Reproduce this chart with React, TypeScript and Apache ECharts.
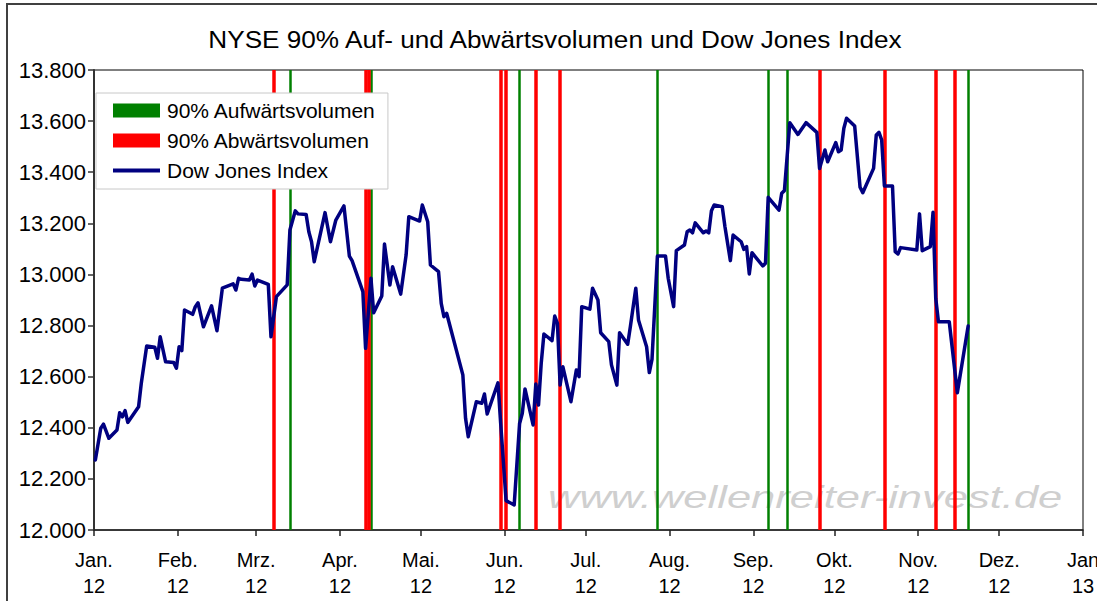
import React, { useEffect, useRef } from 'react';
import * as echarts from 'echarts';

// Month ticks of the date axis
const monthTickDates = [
  '2012-01-01', '2012-02-01', '2012-03-01', '2012-04-01', '2012-05-01', '2012-06-01',
  '2012-07-01', '2012-08-01', '2012-09-01', '2012-10-01', '2012-11-01', '2012-12-01', '2013-01-01',
];
const monthTickLabels = [
  'Jan.\n12', 'Feb.\n12', 'Mrz.\n12', 'Apr.\n12', 'Mai.\n12', 'Jun.\n12',
  'Jul.\n12', 'Aug.\n12', 'Sep.\n12', 'Okt.\n12', 'Nov.\n12', 'Dez.\n12', 'Jan\n13',
];

// Dow Jones Index
const dowDates = [
  '2012-01-01', '2012-01-03', '2012-01-04', '2012-01-06', '2012-01-09', '2012-01-10', '2012-01-11', '2012-01-12', '2012-01-13',
  '2012-01-17', '2012-01-18', '2012-01-20', '2012-01-23', '2012-01-24', '2012-01-25', '2012-01-27', '2012-01-30', '2012-01-31',
  '2012-02-01', '2012-02-02', '2012-02-03', '2012-02-06', '2012-02-07', '2012-02-08', '2012-02-10', '2012-02-13', '2012-02-15',
  '2012-02-17', '2012-02-21', '2012-02-22', '2012-02-23', '2012-02-24', '2012-02-27', '2012-02-28', '2012-02-29',
  '2012-03-01', '2012-03-05', '2012-03-06', '2012-03-08', '2012-03-12', '2012-03-13', '2012-03-15', '2012-03-16', '2012-03-19',
  '2012-03-20', '2012-03-21', '2012-03-22', '2012-03-26', '2012-03-28', '2012-03-30',
  '2012-04-02', '2012-04-04', '2012-04-05', '2012-04-09', '2012-04-10', '2012-04-12', '2012-04-13', '2012-04-16', '2012-04-17',
  '2012-04-19', '2012-04-20', '2012-04-23', '2012-04-25', '2012-04-26', '2012-04-30',
  '2012-05-01', '2012-05-03', '2012-05-04', '2012-05-07', '2012-05-08', '2012-05-09', '2012-05-10', '2012-05-16', '2012-05-17',
  '2012-05-18', '2012-05-21', '2012-05-23', '2012-05-24', '2012-05-25', '2012-05-29', '2012-05-30',
  '2012-06-01', '2012-06-04', '2012-06-06', '2012-06-07', '2012-06-08', '2012-06-11', '2012-06-12', '2012-06-13', '2012-06-14',
  '2012-06-15', '2012-06-18', '2012-06-19', '2012-06-20', '2012-06-21', '2012-06-22', '2012-06-25', '2012-06-27', '2012-06-28',
  '2012-06-29',
  '2012-07-02', '2012-07-03', '2012-07-05', '2012-07-06', '2012-07-09', '2012-07-10', '2012-07-12', '2012-07-13', '2012-07-16',
  '2012-07-17', '2012-07-19', '2012-07-20', '2012-07-23', '2012-07-24', '2012-07-25', '2012-07-27', '2012-07-30', '2012-07-31',
  '2012-08-02', '2012-08-03', '2012-08-06', '2012-08-07', '2012-08-08', '2012-08-09', '2012-08-10', '2012-08-13', '2012-08-14',
  '2012-08-15', '2012-08-16', '2012-08-17', '2012-08-20', '2012-08-21', '2012-08-23', '2012-08-24', '2012-08-27', '2012-08-28',
  '2012-08-29', '2012-08-30', '2012-08-31',
  '2012-09-04', '2012-09-05', '2012-09-06', '2012-09-10', '2012-09-11', '2012-09-12', '2012-09-14', '2012-09-17', '2012-09-20',
  '2012-09-24', '2012-09-25', '2012-09-27', '2012-09-28',
  '2012-10-01', '2012-10-02', '2012-10-03', '2012-10-04', '2012-10-05', '2012-10-08', '2012-10-10', '2012-10-11', '2012-10-15',
  '2012-10-16', '2012-10-17', '2012-10-18', '2012-10-19', '2012-10-22', '2012-10-23', '2012-10-24', '2012-10-25', '2012-10-31',
  '2012-11-01', '2012-11-02', '2012-11-05', '2012-11-06', '2012-11-07', '2012-11-08', '2012-11-12', '2012-11-15', '2012-11-19',
];
const dowValues = [
  12274, 12398, 12414, 12359, 12391, 12459, 12443, 12467, 12421,
  12482, 12574, 12720, 12715, 12672, 12756, 12658, 12655, 12633,
  12717, 12702, 12861, 12844, 12874, 12889, 12795, 12877, 12780,
  12946, 12963, 12939, 12985, 12981, 12978, 13001, 12955,
  12978, 12961, 12756, 12913, 12959, 13174, 13249, 13237, 13235,
  13167, 13128, 13050, 13242, 13128, 13213,
  13268, 13072, 13054, 12933, 12711, 12985, 12850, 12916, 13119,
  12959, 13030, 12923, 13076, 13226, 13209,
  13272, 13206, 13037, 13011, 12887, 12835, 12848, 12607, 12437,
  12365, 12502, 12496, 12532, 12454, 12576, 12417,
  12115, 12098, 12417, 12457, 12552, 12411, 12571, 12489, 12652,
  12767, 12741, 12837, 12809, 12567, 12639, 12502, 12626, 12600,
  12874,
  12864, 12946, 12900, 12772, 12737, 12646, 12567, 12772, 12727,
  12796, 12946, 12822, 12717, 12616, 12668, 13072, 13072, 12985,
  12874, 13093, 13115, 13167, 13174, 13163, 13202, 13163, 13170,
  13163, 13249, 13272, 13265, 13187, 13054, 13154, 13128, 13098,
  13109, 13002, 13085,
  13033, 13044, 13302, 13252, 13318, 13328, 13594, 13548, 13594,
  13556, 13415, 13487, 13441,
  13516, 13480, 13487, 13572, 13611, 13581, 13341, 13320, 13415,
  13546, 13556, 13526, 13346, 13346, 13089, 13080, 13105, 13096,
  13237, 13093, 13109, 13243, 12907, 12815, 12815, 12537, 12798,
];

// 90% volume days
const upVolumeDates = ['2012-03-13', '2012-04-12', '2012-06-06', '2012-07-27', '2012-09-06', '2012-09-13', '2012-11-19'];
const downVolumeDates = [
  '2012-03-07', '2012-04-10', '2012-04-11', '2012-05-30', '2012-06-01', '2012-06-12',
  '2012-06-21', '2012-09-25', '2012-10-19', '2012-11-07', '2012-11-14',
];

const yMin = 12000;
const yMax = 13800;
const yStep = 200;

const FONT = '"Liberation Sans", Arial, sans-serif';
const ORIGIN = Date.UTC(2012, 0, 1);
const dayNum = (s: string) => {
  const [y, m, d] = s.split('-').map(Number);
  return (Date.UTC(y, m - 1, d) - ORIGIN) / 86400000;
};

export default function App() {
  const ref = useRef<HTMLDivElement>(null);
  useEffect(() => {
    if (!ref.current) return;
    const chart = echarts.init(ref.current, null, { renderer: 'svg' });
    const tickDays = monthTickDates.map(dayNum);
    const dowData = dowDates.map((d, i) => [dayNum(d) + 0.5, dowValues[i]]);
    const fmtY = (v: number) => {
      const th = Math.floor(v / 1000);
      const rest = String(v % 1000).padStart(3, '0');
      return th + '.' + rest;
    };
    chart.setOption({
      animation: false,
      textStyle: { fontFamily: FONT },
      grid: {
        left: 94, top: 70, width: 989, height: 460,
        outerBoundsMode: 'none', containLabel: false,
        show: true, borderColor: '#000', borderWidth: 1, backgroundColor: 'transparent',
      },
      graphic: [
        {
          type: 'rect', z: 0, silent: true,
          shape: { x: 7, y: 4, width: 1300, height: 800 },
          style: { fill: 'none', stroke: '#404040', lineWidth: 2 },
        },
        {
          type: 'text', z: 1, silent: true, x: 555, y: 39, scaleX: 1.09,
          style: {
            text: 'NYSE 90% Auf- und Abwärtsvolumen und Dow Jones Index',
            fontSize: 24, fontFamily: FONT, fill: '#000', align: 'center', verticalAlign: 'middle',
          },
        },
        {
          type: 'text', z: 0, silent: true, x: 548, y: 497, scaleX: 1.36,
          style: {
            text: 'www.wellenreiter-invest.de',
            fontSize: 32, fontStyle: 'italic', fontFamily: FONT, fill: '#cfcfcf', align: 'left', verticalAlign: 'middle',
          },
        },
      ],
      legend: {
        orient: 'vertical', left: 96, top: 93,
        itemWidth: 47, itemHeight: 14, itemGap: 9,
        padding: [7, 12, 8, 17],
        borderColor: '#c8c8c8', borderWidth: 1, backgroundColor: '#fff',
        selectedMode: false,
        textStyle: { fontSize: 21, fontFamily: FONT, color: '#000', padding: [0, 0, 0, 2] },
        data: [
          { name: '90% Aufwärtsvolumen', icon: 'rect' },
          { name: '90% Abwärtsvolumen', icon: 'rect' },
          { name: 'Dow Jones Index', icon: 'path://M0,0h50v4H0z' },
        ],
      },
      xAxis: {
        type: 'value', min: 0, max: 366,
        axisLine: { show: true, lineStyle: { color: '#222', width: 1.5 } },
        axisTick: { show: true, customValues: tickDays, length: 6, lineStyle: { color: '#222', width: 1.5 } },
        axisLabel: {
          customValues: tickDays,
          formatter: (v: number) => {
            const i = tickDays.indexOf(v);
            return i >= 0 ? monthTickLabels[i] : '';
          },
          fontSize: 20, lineHeight: 26, margin: 17, color: '#000', fontFamily: FONT,
          showMinLabel: true, showMaxLabel: true, hideOverlap: false,
        },
        splitLine: { show: false },
      },
      yAxis: {
        type: 'value', min: yMin, max: yMax, interval: yStep,
        axisLine: { show: true, lineStyle: { color: '#333', width: 2 } },
        axisTick: { show: true, length: 6, lineStyle: { color: '#333', width: 1.5 } },
        axisLabel: { formatter: fmtY, fontSize: 22, margin: 8, color: '#000', fontFamily: FONT },
        splitLine: { show: false },
      },
      series: [
        {
          name: '90% Aufwärtsvolumen', type: 'line', data: [], color: '#008000',
          itemStyle: { color: '#008000' },
          markLine: {
            silent: true, symbol: ['none', 'none'], z: 1, animation: false,
            label: { show: false },
            lineStyle: { color: '#008000', width: 2.5, type: 'solid' },
            emphasis: { disabled: true },
            data: upVolumeDates.map((d) => ({ xAxis: dayNum(d) + 0.5 })),
          },
        },
        {
          name: '90% Abwärtsvolumen', type: 'line', data: [], color: '#ff0000',
          itemStyle: { color: '#ff0000' },
          markLine: {
            silent: true, symbol: ['none', 'none'], z: 1, animation: false,
            label: { show: false },
            lineStyle: { color: '#ff0000', width: 3.5, type: 'solid' },
            emphasis: { disabled: true },
            data: downVolumeDates.map((d) => ({ xAxis: dayNum(d) + 0.5 })),
          },
        },
        {
          name: 'Dow Jones Index', type: 'line', data: dowData, z: 10,
          color: '#000080', showSymbol: false, symbol: 'none',
          lineStyle: { color: '#000080', width: 3.5, join: 'round', cap: 'round' },
          emphasis: { disabled: true },
        },
      ],
    });
    return () => chart.dispose();
  }, []);
  return <div ref={ref} style={{ position: 'absolute', left: 0, top: 0, width: 1097, height: 601 }} />;
}
